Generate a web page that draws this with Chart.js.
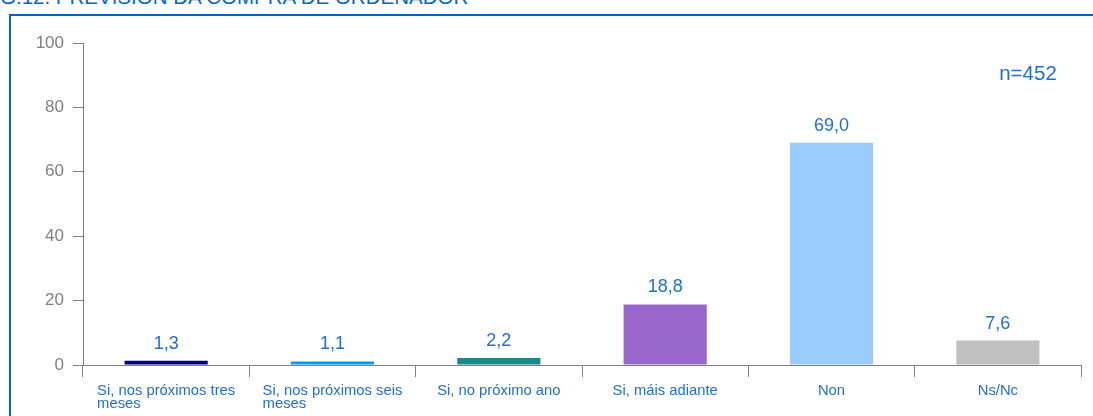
<!DOCTYPE html>
<html>
<head>
<meta charset="utf-8">
<script src="https://cdn.jsdelivr.net/npm/chart.js@4/dist/chart.umd.min.js"></script>
<style>
  body { margin: 0; background: #fff; overflow: hidden; }
  #wrap { position: relative; width: 1093px; height: 416px; }
  #title { position: absolute; left: 0; top: -15px; font: 20.5px "Liberation Sans", Arial, sans-serif; color: #0066cc; white-space: nowrap; }
  #box { position: absolute; left: 9px; top: 14px; width: 1200px; height: 500px; border: 2px solid #0066cc; box-sizing: border-box; }
  canvas { position: absolute; left: 0; top: 0; }
</style>
</head>
<body>
<div id="wrap">
  <div id="title">G.12. PREVISIÓN DA COMPRA DE ORDENADOR</div>
  <div id="box"></div>
  <canvas id="myChart" width="1093" height="416"></canvas>
</div>
<script>
// categories and values
const categories = [
  "Si, nos próximos tres\nmeses",
  "Si, nos próximos seis\nmeses",
  "Si, no próximo ano",
  "Si, máis adiante",
  "Non",
  "Ns/Nc",
];
const values = [1.3, 1.1, 2.2, 18.8, 69.0, 7.6];
const barColors = ["#000080", "#0099ff", "#1a8a8a", "#9966cc", "#99ccff", "#c0c0c0"];
const yTicks = [0, 20, 40, 60, 80, 100];
const sampleNote = "n=452";

const blue = "#1f6fd0";
const grey = "#808080";
const font = '"Liberation Sans", Arial, sans-serif';

// value labels above bars, wrapped category labels, n note
const labelsPlugin = {
  id: "labels",
  afterDraw(chart) {
    const c = chart.ctx;
    const meta = chart.getDatasetMeta(0);
    c.save();
    c.fillStyle = blue;
    c.font = "18px " + font;
    c.textAlign = "center";
    c.textBaseline = "alphabetic";
    meta.data.forEach((bar, i) => {
      c.fillText(values[i].toFixed(1).replace(".", ","), bar.x, bar.y - 12);
    });

    const x = chart.scales.x;
    c.font = "14.8px " + font;
    c.textAlign = "left";
    categories.forEach((cat, i) => {
      const lines = cat.split("\n");
      const w = Math.max(...lines.map(l => c.measureText(l).width));
      const cx = x.getPixelForValue(i);
      lines.forEach((l, j) => {
        c.fillText(l, cx - w / 2, x.top + 30 + j * 12.5);
      });
    });

    c.font = "20.5px " + font;
    c.textAlign = "center";
    c.fillText(sampleNote, 1028, 80);
    c.restore();
  },
};

const ctx = document.getElementById("myChart");
new Chart(ctx, {
  type: "bar",
  data: {
    labels: categories,
    datasets: [
      {
        data: values,
        backgroundColor: barColors,
        barPercentage: 0.5,
        categoryPercentage: 1,
      },
    ],
  },
  options: {
    responsive: false,
    animation: false,
    layout: { padding: { left: 0, right: 12, top: 43, bottom: 0 } },
    plugins: { legend: { display: false }, tooltip: { enabled: false } },
    scales: {
      x: {
        grid: { offset: true, drawOnChartArea: false, tickLength: 12, color: grey },
        border: { color: grey },
        ticks: { display: false },
        afterFit(scale) { scale.height = 51; },
      },
      y: {
        min: 0,
        max: 100,
        afterBuildTicks(scale) { scale.ticks = yTicks.map(v => ({ value: v })); },
        grid: { drawOnChartArea: false, tickLength: 10, color: grey },
        border: { color: grey },
        ticks: { color: grey, font: { size: 17, family: font }, padding: 9 },
        afterFit(scale) { scale.width = 83; },
      },
    },
  },
  plugins: [labelsPlugin],
});
</script>
</body>
</html>
